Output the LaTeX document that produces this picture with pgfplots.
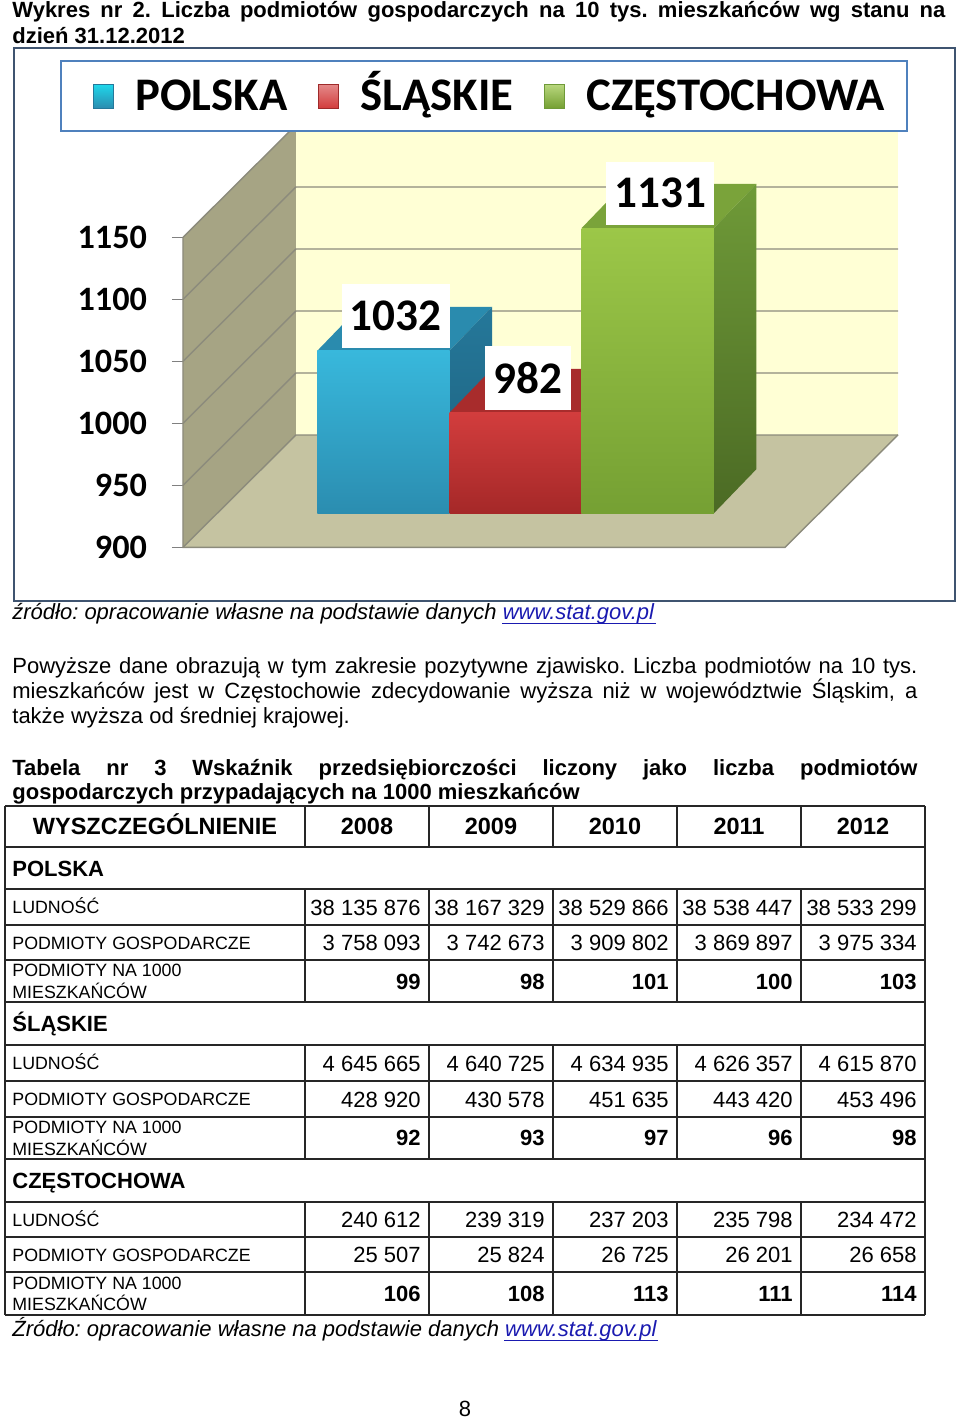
\documentclass[border=0pt]{standalone}
\usepackage{fontspec}
\setmainfont{Liberation Sans}
\newfontfamily\calibri{Carlito}
\usepackage{pgfplots}
\usepackage{pgfplotstable}
\pgfplotsset{compat=1.18}
\frenchspacing

% walls and frame
\definecolor{leftwall}{HTML}{A6A484}
\definecolor{floorc}{HTML}{C5C3A1}
\definecolor{backwall}{HTML}{FFFFD5}
\definecolor{gridc}{HTML}{8C8B7C}
\definecolor{frameblue}{HTML}{3F5470}
\definecolor{legblue}{HTML}{4F81BD}
\definecolor{linkblue}{HTML}{1A1AB0}
% bars: top face, front top/bottom, side top/bottom
\definecolor{bTop}{HTML}{2A8BAE}
\definecolor{bFrT}{HTML}{38B8DC}
\definecolor{bFrB}{HTML}{2B8DB0}
\definecolor{bSdT}{HTML}{25789A}
\definecolor{bSdB}{HTML}{1D5F7C}
\definecolor{rTop}{HTML}{A82C2C}
\definecolor{rFrT}{HTML}{D23D3D}
\definecolor{rFrB}{HTML}{A52828}
\definecolor{rSdT}{HTML}{9E2A2A}
\definecolor{rSdB}{HTML}{7A1E1E}
\definecolor{gTop}{HTML}{7AA33A}
\definecolor{gFrT}{HTML}{9CC748}
\definecolor{gFrB}{HTML}{75A033}
\definecolor{gSdT}{HTML}{6F9A38}
\definecolor{gSdB}{HTML}{4B6A24}

\newcommand\tickfont{\calibri\bfseries\fontsize{17.1}{20}\selectfont}
\newcommand\valfont{\calibri\bfseries\fontsize{22.6}{26}\selectfont}
\newcommand\legfont{\calibri\bfseries\fontsize{23.35}{27}\selectfont}
\newcommand\txt{\fontsize{11}{13}\selectfont}
\newcommand\hdr{\bfseries\fontsize{11.75}{14}\selectfont}
\newcommand\sml{\fontsize{8.9}{10}\selectfont}
\newcommand\link[1]{\textcolor{linkblue}{#1}}

\pgfplotstableread{
cat v
POLSKA 1032
ŚLĄSKIE 982
CZĘSTOCHOWA 1131
}\bardata

% one 3D bar: #1 front-left x, #2 value, #3 top face, #4/#5 front, #6/#7 side
\newcommand\barthreed[7]{%
  \pgfmathsetmacro\bxa{#1}%
  \pgfmathsetmacro\bxb{#1+132.2}%
  \pgfmathsetmacro\bxc{#1+42.5}%
  \pgfmathsetmacro\bxd{#1+174.7}%
  \pgfmathsetmacro\byf{#2+26.5}%
  \pgfmathsetmacro\byb{#2+62}%
  \edef\tmp{%
    \noexpand\addplot[fill=#3, draw=none] coordinates {(\bxa,\byf) (\bxb,\byf) (\bxd,\byb) (\bxc,\byb)};
    \noexpand\addplot[top color=#6, bottom color=#7, draw=none] coordinates {(\bxb,927.5) (\bxd,963) (\bxd,\byb) (\bxb,\byf)};
    \noexpand\addplot[top color=#4, bottom color=#5, draw=none] coordinates {(\bxa,927.5) (\bxb,927.5) (\bxb,\byf) (\bxa,\byf)};
  }\tmp}

% five right-aligned numbers of a table row
\newcommand\vals[6]{%
  \foreach \t/\xx in {#2/421,#3/545,#4/669,#5/793,#6/917}
    \node[anchor=base east, font=\txt] at (\xx,#1) {\t};}
\newcommand\bvals[6]{%
  \foreach \t/\xx in {#2/421,#3/545,#4/669,#5/793,#6/917}
    \node[anchor=base east, font=\txt\bfseries] at (\xx,#1) {\t};}

\begin{document}
\begin{tikzpicture}
\path[use as bounding box] (0,0) rectangle (480pt,-710pt);

\pgfplotstablegetelem{0}{v}\of\bardata\let\vA\pgfplotsretval
\pgfplotstablegetelem{1}{v}\of\bardata\let\vB\pgfplotsretval
\pgfplotstablegetelem{2}{v}\of\bardata\let\vC\pgfplotsretval

\begin{axis}[
  at={(91.5pt,-273.65pt)}, anchor=south west,
  x=0.5pt, y=0.62pt,
  xmin=183, xmax=900, ymin=900, ymax=1250,
  clip=false, no markers,
  axis x line=none, xtick=\empty,
  axis y line*=left,
  y axis line style={draw=none},
  ytick={900,950,1000,1050,1100,1150},
  yticklabels={900,950,1000,1050,1100,1150},
  tick align=outside,
  major tick length=5.5pt,
  ytick style={draw=gray, line width=0.6pt},
  yticklabel style={font=\tickfont, text=black, xshift=-9pt},
]
% walls and floor
\addplot[fill=leftwall, draw=none] coordinates {(183,900) (296,990.6) (296,1240.6) (183,1150)};
\addplot[fill=floorc, draw=none] coordinates {(183,900) (785,900) (898,990.6) (296,990.6)};
\addplot[fill=backwall, draw=none] coordinates {(296,990.6) (898,990.6) (898,1240.6) (296,1240.6)};
% gridlines across the left wall and the back wall
\addplot[gridc, line width=0.7pt] coordinates {(183,900) (296,990.6) (898,990.6)};
\addplot[gridc, line width=0.7pt] coordinates {(183,950) (296,1040.6) (898,1040.6)};
\addplot[gridc, line width=0.7pt] coordinates {(183,1000) (296,1090.6) (898,1090.6)};
\addplot[gridc, line width=0.7pt] coordinates {(183,1050) (296,1140.6) (898,1140.6)};
\addplot[gridc, line width=0.7pt] coordinates {(183,1100) (296,1190.6) (898,1190.6)};
\addplot[gridc, line width=0.7pt] coordinates {(183,1150) (296,1240.6) (898,1240.6)};
\addplot[gridc, line width=0.7pt] coordinates {(183,1150) (183,900) (785,900) (898,990.6)};
% bars
\barthreed{317.3}{\vA}{bTop}{bFrT}{bFrB}{bSdT}{bSdB}
\barthreed{449.5}{\vB}{rTop}{rFrT}{rFrB}{rSdT}{rSdB}
\barthreed{581.7}{\vC}{gTop}{gFrT}{gFrB}{gSdT}{gSdB}
% value labels
\addplot[draw=none, point meta=explicit symbolic,
  nodes near coords, nodes near coords align={anchor=center},
  every node near coord/.append style={anchor=center, fill=white, text=black,
    font=\valfont, inner xsep=4.15pt, inner ysep=0pt, minimum height=31.7pt}]
  table[x expr={395.7+132.2*\coordindex}, y expr={\thisrow{v}+54.5}, meta=v]{\bardata};
\end{axis}

\begin{scope}[x=0.5pt, y=-0.5pt, every node/.style={inner sep=0pt}]
% title
\node[anchor=base west, font=\txt\bfseries] at (12,17)
  {\makebox[466.5pt][s]{Wykres nr 2. Liczba podmiotów gospodarczych na 10 tys. mieszkańców wg stanu na}};
\node[anchor=base west, font=\txt\bfseries] at (12,43) {dzień 31.12.2012};

% chart frame and legend
\draw[frameblue, line width=1pt] (14,48) rectangle (955,601);
\draw[legblue, line width=1pt, fill=white] (61,61) rectangle (907,131);
\shade[top color=cyan!45!bFrT, bottom color=bFrB, draw=bSdT, line width=0.5pt] (93,84) rectangle (113,108);
\shade[top color=rFrT!60!white, bottom color=rFrT, draw=rSdT, line width=0.5pt] (318,84) rectangle (338,108);
\shade[top color=gFrT!70!white, bottom color=gFrB, draw=gSdT, line width=0.5pt] (544,84) rectangle (564,108);
\node[anchor=base west, font=\legfont] at (135,110) {POLSKA};
\node[anchor=base west, font=\legfont] at (360,110) {ŚLĄSKIE};
\node[anchor=base west, font=\legfont] at (586,110) {CZĘSTOCHOWA};

% source and paragraph
\node[anchor=base west, font=\txt\itshape] at (12,619)
  {źródło: opracowanie własne na podstawie danych \link{www.stat.gov.pl}};
\draw[linkblue, line width=0.5pt] (502,623) -- (656,623);
\node[anchor=base west, font=\txt] at (12,673)
  {\makebox[452.5pt][s]{Powyższe dane obrazują w tym zakresie pozytywne zjawisko. Liczba podmiotów na 10 tys.}};
\node[anchor=base west, font=\txt] at (12,698)
  {\makebox[452.5pt][s]{mieszkańców jest w Częstochowie zdecydowanie wyższa niż w województwie Śląskim, a}};
\node[anchor=base west, font=\txt] at (12,723) {także wyższa od średniej krajowej.};
\node[anchor=base west, font=\txt\bfseries] at (12,775)
  {\makebox[452.5pt][s]{Tabela nr 3 Wskaźnik przedsiębiorczości liczony jako liczba podmiotów}};
\node[anchor=base west, font=\txt\bfseries] at (12,799) {gospodarczych przypadających na 1000 mieszkańców};

% table grid
\begin{scope}[line width=1pt, black!85]
\foreach \yy in {806,847,889,925,960,1002,1045,1081,1117,1159,1202,1237,1272,1315}
  \draw (5,\yy) -- (925,\yy);
\draw[line width=1.3pt] (5,806) -- (5,1315);
\draw[line width=1.3pt] (925,806) -- (925,1315);
\foreach \xx in {305,429,553,677,801} {
  \draw (\xx,806) -- (\xx,847);
  \draw (\xx,889) -- (\xx,1002);
  \draw (\xx,1045) -- (\xx,1159);
  \draw (\xx,1202) -- (\xx,1315);
}
\end{scope}

% table header
\node[anchor=base, font=\hdr] at (155,834) {WYSZCZEGÓLNIENIE};
\foreach \yr/\xx in {2008/367,2009/491,2010/615,2011/739,2012/863}
  \node[anchor=base, font=\hdr] at (\xx,834) {\yr};

% POLSKA
\node[anchor=base west, font=\txt\bfseries] at (12,876) {POLSKA};
\node[anchor=base west, font=\sml] at (12,913.5) {LUDNOŚĆ};
\node[anchor=base west, font=\sml] at (12,949) {PODMIOTY GOSPODARCZE};
\node[anchor=base west, font=\sml] at (12,976.7) {PODMIOTY NA 1000};
\node[anchor=base west, font=\sml] at (12,998.3) {MIESZKAŃCÓW};
\vals{915}{38 135 876}{38 167 329}{38 529 866}{38 538 447}{38 533 299}
\vals{950.5}{3 758 093}{3 742 673}{3 909 802}{3 869 897}{3 975 334}
\bvals{989}{99}{98}{101}{100}{103}

% SLASKIE
\node[anchor=base west, font=\txt\bfseries] at (12,1031.5) {ŚLĄSKIE};
\node[anchor=base west, font=\sml] at (12,1069.5) {LUDNOŚĆ};
\node[anchor=base west, font=\sml] at (12,1105.5) {PODMIOTY GOSPODARCZE};
\node[anchor=base west, font=\sml] at (12,1133.7) {PODMIOTY NA 1000};
\node[anchor=base west, font=\sml] at (12,1155.3) {MIESZKAŃCÓW};
\vals{1071}{4 645 665}{4 640 725}{4 634 935}{4 626 357}{4 615 870}
\vals{1107}{428 920}{430 578}{451 635}{443 420}{453 496}
\bvals{1145.5}{92}{93}{97}{96}{98}

% CZESTOCHOWA
\node[anchor=base west, font=\txt\bfseries] at (12,1188.5) {CZĘSTOCHOWA};
\node[anchor=base west, font=\sml] at (12,1226) {LUDNOŚĆ};
\node[anchor=base west, font=\sml] at (12,1261) {PODMIOTY GOSPODARCZE};
\node[anchor=base west, font=\sml] at (12,1289.2) {PODMIOTY NA 1000};
\node[anchor=base west, font=\sml] at (12,1310.8) {MIESZKAŃCÓW};
\vals{1227.5}{240 612}{239 319}{237 203}{235 798}{234 472}
\vals{1262.5}{25 507}{25 824}{26 725}{26 201}{26 658}
\bvals{1301.5}{106}{108}{113}{111}{114}

% source and page number
\node[anchor=base west, font=\txt\itshape] (src2) at (12,1336)
  {Źródło: opracowanie własne na podstawie danych \link{www.stat.gov.pl}};
\draw[linkblue, line width=0.5pt] (504,1340) -- (658,1340);
\node[anchor=base, font=\txt] at (465,1416) {8};
\end{scope}
\end{tikzpicture}
\end{document}
